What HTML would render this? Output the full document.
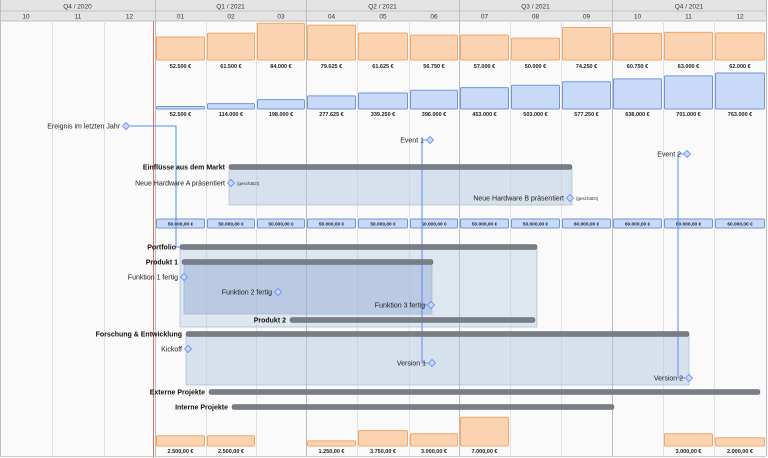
<!DOCTYPE html><html><head><meta charset="utf-8"><style>
body{margin:0;background:#fafafa;}svg{display:block;font-family:"Liberation Sans",sans-serif}
</style></head><body>
<svg id="s" width="768" height="458" xmlns="http://www.w3.org/2000/svg"></svg>
<script>
const X=[0,52,104,155,206,256,306,357,409,459,510,561,612,663,714,766];
let h='<rect width="768" height="458" fill="#fafafa"/>';
h+='<rect x="0" y="0" width="766" height="21" fill="#e4e4e4"/>';
h+='<line x1="0" y1="11" x2="766" y2="11" stroke="#c4c4c4"/><line x1="0" y1="21" x2="766" y2="21" stroke="#c0c0c0"/>';
const M=['10','11','12','01','02','03','04','05','06','07','08','09','10','11','12'];
for(let i=0;i<=15;i++){const q=(i%3==0);h+=`<line x1="${X[i]+.5}" y1="${q?0:11}" x2="${X[i]+.5}" y2="456" stroke="${q?'#bdbdbd':'#e2e2e2'}"/>`;}
const Q=['Q4 / 2020','Q1 / 2021','Q2 / 2021','Q3 / 2021','Q4 / 2021'];
for(let i=0;i<5;i++)h+=`<text x="${(X[i*3]+X[i*3+3])/2}" y="8.5" font-size="6.5" text-anchor="middle" fill="#333">${Q[i]}</text>`;
for(let i=0;i<15;i++)h+=`<text x="${(X[i]+X[i+1])/2}" y="18.5" font-size="6.5" text-anchor="middle" fill="#333">${M[i]}</text>`;
h+='<line x1="153.5" y1="21" x2="153.5" y2="458" stroke="#e07070"/>';
h+='<line x1="0" y1="456.5" x2="766" y2="456.5" stroke="#ccc"/>';
function bar(i,top,bot,f,s,lbl,ly){h+=`<rect x="${X[i]+1.5}" y="${top}" width="${X[i+1]-X[i]-3}" height="${bot-top}" fill="${f}" stroke="${s}" rx="1"/>`;h+=`<text x="${(X[i]+X[i+1])/2}" y="${ly}" font-size="5.5" font-weight="bold" text-anchor="middle" fill="#222">${lbl}</text>`;}
const A=[52500,61500,84000,79625,61625,56750,57000,50000,74250,60750,63000,62000];
const AL=['52.500 €','61.500 €','84.000 €','79.625 €','61.625 €','56.750 €','57.000 €','50.000 €','74.250 €','60.750 €','63.000 €','62.000 €'];
const C=[52500,114000,198000,277625,339250,396000,453000,503000,577250,638000,701000,763000];
const CL=['52.500 €','114.000 €','198.000 €','277.625 €','339.250 €','396.000 €','453.000 €','503.000 €','577.250 €','638.000 €','701.000 €','763.000 €'];
for(let k=0;k<12;k++){bar(k+3,60-A[k]*0.000438,60,'#fbd3b0','#f0a868',AL[k],68);bar(k+3,109-C[k]*0.0000472,109,'#c8daf7','#6f97d6',CL[k],116);}
for(let k=0;k<12;k++){h+=`<rect x="${X[k+3]+1.5}" y="219" width="${X[k+4]-X[k+3]-3}" height="9" fill="#c8daf7" stroke="#6f97d6" rx="1"/><text x="${(X[k+3]+X[k+4])/2}" y="225.5" font-size="4.8" font-weight="bold" text-anchor="middle" fill="#222">${k<8?'50.000,00 €':'60.000,00 €'}</text>`;}
const B=[[3,2500,'2.500,00 €'],[4,2500,'2.500,00 €'],[6,1250,'1.250,00 €'],[7,3750,'3.750,00 €'],[8,3000,'3.000,00 €'],[9,7000,'7.000,00 €'],[13,3000,'3.000,00 €'],[14,2000,'2.000,00 €']];
for(const [i,v,l] of B)bar(i,446-v*0.0041,446,'#fbd3b0','#f0a868',l,453);
// boxes
function box(x1,y1,x2,y2,f){h+=`<rect x="${x1}" y="${y1}" width="${x2-x1}" height="${y2-y1}" fill="${f}" stroke="#9fb2cc" stroke-width=".6"/>`;}
box(229,167,572,205,'rgba(180,199,226,.5)');
box(180,247,537,327,'rgba(180,199,226,.4)');
box(184,262,432,314,'rgba(140,168,208,.45)');
box(186,334,689,385,'rgba(180,199,226,.5)');
function gbar(x1,x2,y,lbl){h+=`<rect x="${x1}" y="${y-2.5}" width="${x2-x1}" height="5" rx="2" fill="#7a7d82" stroke="#5a6d8a" stroke-width=".5"/><text x="${x1-4}" y="${y+2.5}" font-size="7" font-weight="bold" text-anchor="end" fill="#111">${lbl}</text>`;}
// lines
const L='#5b8cf0';
h+=`<polyline points="130,126 176,126 176,247 180,247" fill="none" stroke="${L}" stroke-width="1"/>`;
h+=`<polyline points="427,140 422,140 422,363 428,363" fill="none" stroke="${L}" stroke-width="1"/>`;
h+=`<line x1="422" y1="305" x2="428" y2="305" stroke="${L}"/>`;
h+=`<polyline points="684,154 678,154 678,378 685,378" fill="none" stroke="${L}" stroke-width="1"/>`;
gbar(229,572,167,'Einflüsse aus dem Markt');
gbar(180,537,247,'Portfolio');
gbar(182,433,262,'Produkt 1');
gbar(290,535,320,'Produkt 2');
gbar(186,689,334,'Forschung &amp; Entwicklung');
gbar(209,760,392,'Externe Projekte');
gbar(232,614,407,'Interne Projekte');
function dia(x,y,lbl,extra){h+=`<path d="M${x-3.5} ${y}L${x} ${y-3.5}L${x+3.5} ${y}L${x} ${y+3.5}Z" fill="#c8daf7" stroke="#5b8cf0" stroke-width=".8"/><text x="${x-6}" y="${y+2.5}" font-size="7" text-anchor="end" fill="#222">${lbl}</text>`;if(extra)h+=`<text x="${x+6}" y="${y+2}" font-size="4.5" fill="#333">(geschätzt)</text>`;}
dia(126,126,'Ereignis im letzten Jahr');
dia(430,140,'Event 1');dia(687,154,'Event 2');
dia(231,183,'Neue Hardware A präsentiert',1);dia(570,198,'Neue Hardware B präsentiert',1);
dia(184,277,'Funktion 1 fertig');dia(278,292,'Funktion 2 fertig');dia(431,305,'Funktion 3 fertig');
dia(188,349,'Kickoff');dia(432,363,'Version 1');dia(689,378,'Version 2');
document.getElementById('s').innerHTML=h;
</script></body></html>
